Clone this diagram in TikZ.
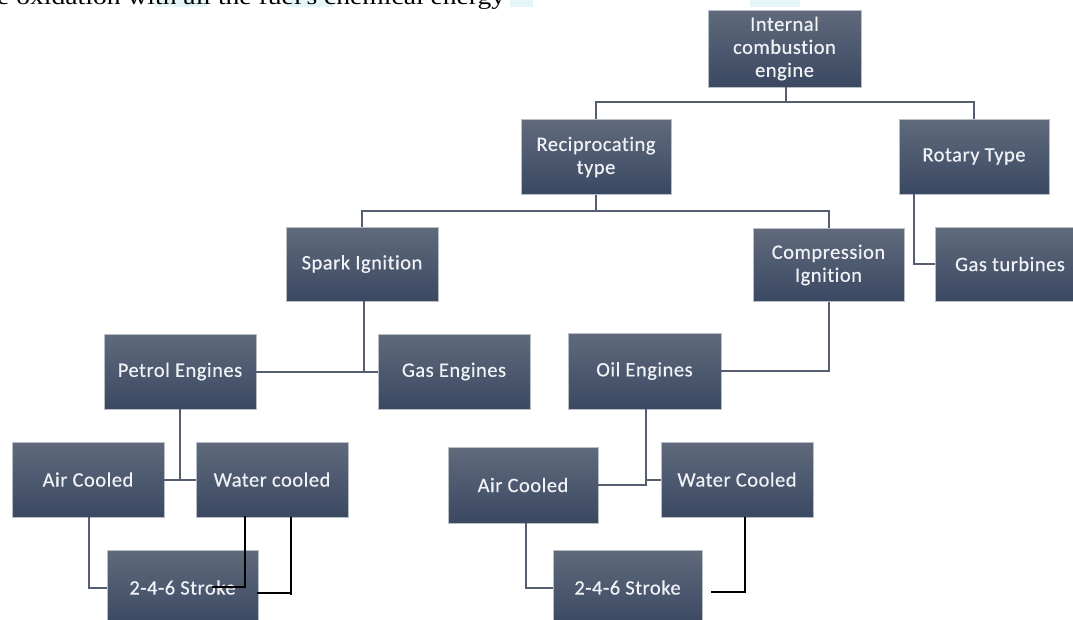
\documentclass[tikz,border=0pt]{standalone}
\usepackage{fontspec}
\setmainfont{Carlito}[LetterSpace=2.5, Ligatures=NoCommon, FakeBold=0.4]
\newfontfamily\docfont{Liberation Serif}
\usetikzlibrary{calc}
\definecolor{boxtop}{RGB}{96,106,124}
\definecolor{boxbot}{RGB}{58,72,98}
\definecolor{boxedge}{RGB}{185,190,198}
\definecolor{boxtext}{RGB}{240,242,246}
\definecolor{linkcol}{RGB}{84,94,110}
\definecolor{hilite}{RGB}{228,246,248}
\tikzset{
  box/.style={draw=boxedge, line width=0.6pt, top color=boxtop, bottom color=boxbot,
    minimum width=#1, minimum height=75pt, inner sep=0pt, align=center,
    text=boxtext, font=\fontsize{20.5}{23}\selectfont},
  box/.default=152pt,
  link/.style={draw=linkcol, line width=2pt},
  blk/.style={draw=black, line width=1.3pt}
}
\begin{document}
\begin{tikzpicture}[x=1pt,y=-1pt]
\useasboundingbox (0,0) rectangle (1073,619);
% clipped document line at the top
\fill[hilite] (155,-2) rectangle (207,7);
\fill[hilite] (287,-2) rectangle (333,7);
\fill[hilite] (510,-2) rectangle (533,7);
\fill[hilite] (750,-2) rectangle (800,7);
\node[anchor=base west, inner sep=0pt, font=\docfont\fontsize{23}{26}\selectfont] (doc) at (-3,4.5) {\scalebox{1.2}[1]{e oxidation with all the fuel's chemical energy}};

% nodes
\node[box=153pt, minimum height=77pt] (ice) at (784.5,48.5) {Internal\\combustion\\engine};
\node[box=150pt] (recip) at (596,157) {Reciprocating\\type};
\node[box=150pt] (rotary) at (974,156.5) {Rotary Type};
\node[box, minimum height=74pt] (spark) at (362,264) {Spark Ignition};
\node[box=151pt, minimum height=73pt] (comp) at (828.5,265) {Compression\\Ignition};
\node[box=150pt, minimum height=74pt] (gasturb) at (1010,264) {Gas turbines};
\node[box] (petrol) at (180,371.5) {Petrol Engines};
\node[box] (gaseng) at (454,371.5) {Gas Engines};
\node[box=153pt, minimum height=76pt] (oil) at (644.5,371) {Oil Engines};
\node[box] (aircL) at (88,479.5) {Air Cooled};
\node[box] (waterL) at (272,479.5) {Water cooled};
\node[box=151pt] (strokeL) at (182.5,587.5) {2-4-6 Stroke};
\node[box=150pt, minimum height=76pt] (aircR) at (523,485) {Air Cooled};
\node[box] (waterR) at (737,479.5) {Water Cooled};
\node[box=149pt] (strokeR) at (627.5,587.5) {2-4-6 Stroke};

% junctions
\coordinate (j1) at ($(ice.south)+(1.5,15)$);
\coordinate (j2) at ($(recip.south)+(0,16)$);

% connectors
\draw[link] (ice.south) ++(1.5,0) -- (j1);
\draw[link] (recip.north) |- (j1) -| (rotary.north);
\draw[link] (recip.south) -- (j2);
\draw[link] (spark.north) |- (j2) -| (comp.north);
\draw[link] ($(rotary.south)+(-60,0)$) |- (gasturb.west);
\draw[link] (petrol.east) -- (gaseng.west);
\draw[link] ($(spark.south)+(2,0)$) -- ($(spark.south |- gaseng.west)+(2,0)$);
\draw[link] (comp.south) |- (oil.east);
\draw[link] (aircR.east) -| ($(oil.south)+(1.5,0)$);
\draw[link] (waterR.west) -- ($(waterR.west -| oil.south)+(1.5,0)$);
\draw[link] (aircL.east) -- (waterL.west);
\draw[link] (petrol.south) -- (petrol.south |- aircL.east);
\draw[link] ($(aircL.south)+(1,0)$) |- (strokeL.west);
\draw[link] ($(aircR.south)+(3,0)$) |- (strokeR.west);

% black strokes
\draw[blk] ($(strokeL.center)+(29.5,-0.5)$) -| ($(waterL.south)+(-27,-1)$);
\draw[blk] ($(waterL.south)+(19,0)$) -- ++(0,78);
\draw[blk] ($(strokeL.east)+(-1,5.5)$) -- ++(34,0);
\draw[blk] ($(strokeR.east)+(9,4.5)$) -| ($(waterR.south)+(8,0)$);
\end{tikzpicture}
\end{document}
